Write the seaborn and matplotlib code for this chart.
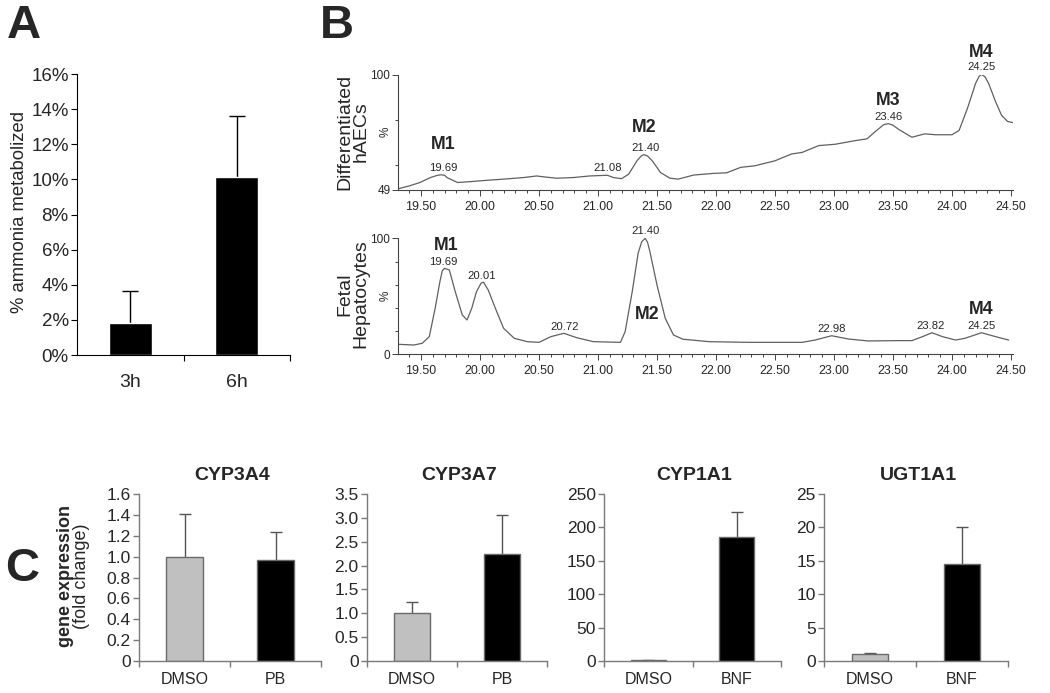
import numpy as np
import pandas as pd
import matplotlib
matplotlib.use("Agg")
import matplotlib.pyplot as plt
import seaborn as sns
from matplotlib import font_manager as fm
from matplotlib.ticker import FixedLocator

# ---------------- Panel A data ----------------
a_categories = ["3h", "6h"]
a_values = [1.85, 10.15]
a_errors = [1.80, 3.45]
a_yticks = [0, 2, 4, 6, 8, 10, 12, 14, 16]
a_ylabel = "% ammonia metabolized"

# ---------------- Panel B data (chromatograms) ----------------
b_top_time = [19.31, 19.40, 19.49, 19.58, 19.64, 19.67, 19.70, 19.72, 19.81, 19.92, 20.06, 20.20,
              20.37, 20.48, 20.54, 20.65, 20.79, 20.93, 21.08, 21.13, 21.20, 21.26,
              21.33, 21.37, 21.39, 21.42, 21.46, 21.53, 21.61, 21.68, 21.81, 21.97, 22.09, 22.21,
              22.33, 22.50, 22.64, 22.73, 22.87, 23.01, 23.18, 23.28, 23.35, 23.42, 23.46,
              23.50, 23.55, 23.66, 23.77, 23.86, 24.00, 24.06, 24.13, 24.20, 24.23, 24.25, 24.28,
              24.31, 24.37, 24.42, 24.47, 24.52]
b_top_signal = [49.6, 50.8, 52.3, 54.5, 55.5, 55.7, 55.5, 54.5, 52.3, 52.7, 53.3, 53.8,
                54.5, 55.2, 54.8, 54.2, 54.5, 55.2, 55.5, 54.5, 54.0, 56.0,
                61.9, 64.2, 64.6, 64.0, 61.9, 56.7, 54.2, 53.8, 55.6, 56.3, 56.6, 59.0,
                59.7, 61.9, 64.9, 65.6, 68.6, 69.2, 70.8, 71.6, 74.8, 77.8, 78.3,
                77.6, 75.7, 72.3, 73.8, 73.4, 73.4, 75.3, 84.9, 96.1, 99.2, 100.0, 99.0,
                96.1, 87.9, 82.0, 79.3, 78.7]
b_bot_time = [19.31, 19.44, 19.51, 19.57, 19.62, 19.66, 19.68, 19.70, 19.74, 19.79, 19.85,
              19.89, 19.93, 19.97, 20.01, 20.03, 20.07, 20.13, 20.20, 20.29, 20.40, 20.50,
              20.60, 20.71, 20.82, 20.96, 21.19, 21.23, 21.29, 21.34, 21.37, 21.40, 21.42, 21.44,
              21.50, 21.57, 21.64, 21.72, 21.94, 22.28, 22.56, 22.73, 22.84, 22.98,
              23.12, 23.29, 23.55, 23.66, 23.75, 23.83, 23.92, 24.03, 24.11, 24.25,
              24.37, 24.48]
b_bot_signal = [8.6, 8.0, 9.5, 15.2, 39.7, 62.6, 72.0, 74.1, 72.7, 54.0, 33.9,
                29.6, 39.7, 54.0, 61.5, 62.1, 55.4, 39.7, 22.4, 13.8, 10.9, 10.3,
                15.2, 18.1, 14.3, 10.9, 10.3, 19.5, 54.0, 87.1, 97.0, 100.0, 96.5, 88.4,
                59.7, 31.0, 16.6, 13.0, 10.9, 10.3, 10.3, 10.3, 12.3, 16.0,
                13.2, 11.5, 11.8, 11.8, 15.2, 18.6, 15.2, 12.3, 13.8, 18.6,
                15.2, 12.3]
b_top_peak_labels = ["19.69", "21.08", "21.40", "23.46", "24.25"]
b_bot_peak_labels = ["19.69", "20.01", "20.72", "21.40", "22.98", "23.82", "24.25"]
b_top_metabolites = [("M1", 19.69, 69.3), ("M2", 21.39, 76.7), ("M3", 23.46, 88.6), ("M4", 24.25, 109.5)]
b_bot_metabolites = [("M1", 19.71, 94.2), ("M2", 21.42, 33.9), ("M4", 24.25, 38.2)]
b_xticks = [19.5, 20.0, 20.5, 21.0, 21.5, 22.0, 22.5, 23.0, 23.5, 24.0, 24.5]
b_top_ylim = [49, 100]
b_bot_ylim = [0, 100]
b_top_name = "Differentiated\nhAECs"
b_bot_name = "Fetal\nHepatocytes"

# ---------------- Panel C data ----------------
c_genes = ["CYP3A4", "CYP3A7", "CYP1A1", "UGT1A1"]
c_treatments = [["DMSO", "PB"], ["DMSO", "PB"], ["DMSO", "BNF"], ["DMSO", "BNF"]]
c_values = [[1.00, 0.97], [1.00, 2.24], [1.0, 186.0], [1.00, 14.5]]
c_errors = [[0.41, 0.27], [0.23, 0.81], [0.6, 36.5], [0.20, 5.6]]
c_yticks = [[0, 0.2, 0.4, 0.6, 0.8, 1.0, 1.2, 1.4, 1.6],
            [0, 0.5, 1.0, 1.5, 2.0, 2.5, 3.0, 3.5],
            [0, 50, 100, 150, 200, 250],
            [0, 5, 10, 15, 20, 25]]
c_yticklabels = [["0", "0.2", "0.4", "0.6", "0.8", "1.0", "1.2", "1.4", "1.6"],
                 ["0", "0.5", "1.0", "1.5", "2.0", "2.5", "3.0", "3.5"],
                 ["0", "50", "100", "150", "200", "250"],
                 ["0", "5", "10", "15", "20", "25"]]

# ---------------- style ----------------
sns.set_style("white")
plt.rcParams["font.family"] = ["Liberation Sans", "DejaVu Sans"]
names = {f.name for f in fm.fontManager.ttflist}
NARROW = "Liberation Sans Narrow" if "Liberation Sans Narrow" in names else "Liberation Sans"
NSCALE = 1.0 if NARROW == "Liberation Sans Narrow" else 0.85

W, H = 1050, 693
fig = plt.figure(figsize=(W / 100, H / 100), dpi=100)


def px_axes(left, top, right, bottom):
    return fig.add_axes([left / W, 1 - bottom / H, (right - left) / W, (bottom - top) / H])


def fig_text(x, y, s, **kw):
    fig.text(x / W, 1 - y / H, s, **kw)


def up_errorbar(ax, xs, vals, errs, color, capsize, lw):
    eb = ax.errorbar(xs, vals, yerr=[[0] * len(errs), errs], fmt="none", ecolor=color,
                     elinewidth=lw, capsize=capsize, capthick=lw, zorder=1)
    caps = eb[1]
    if len(caps) > 0:
        caps[0].set_visible(False)


# ---------------- Panel A ----------------
axA = px_axes(77, 74, 290, 355)
dfA = pd.DataFrame({"cond": a_categories, "val": a_values})
up_errorbar(axA, [0, 1], a_values, a_errors, "black", 6, 1.0)
sns.barplot(data=dfA, x="cond", y="val", color="black", saturation=1, width=0.4,
            errorbar=None, ax=axA, zorder=2)
axA.set_xlim(-0.5, 1.5)
axA.set_ylim(0, 16)
axA.set_yticks(a_yticks)
axA.set_yticklabels([f"{v}%" for v in a_yticks])
axA.set_xlabel("")
axA.set_ylabel("")
for s in ["top", "right"]:
    axA.spines[s].set_visible(False)
for s in ["left", "bottom"]:
    axA.spines[s].set_color("black")
    axA.spines[s].set_linewidth(0.8)
axA.tick_params(axis="y", which="major", length=4, width=0.8, color="black", labelsize=13.5, pad=2, left=True)
axA.tick_params(axis="x", which="major", length=0, labelsize=14, pad=14)
axA.xaxis.set_minor_locator(FixedLocator([0.5, 1.5]))
axA.tick_params(axis="x", which="minor", length=4, width=0.8, color="black", bottom=True)
fig_text(20, 212, a_ylabel, rotation=90, ha="center", va="center", fontsize=13.3)
fig_text(7, 4, "A", ha="left", va="top", fontsize=34, fontweight="bold")

# ---------------- Panel B ----------------
B_LEFT, B_RIGHT = 398, 1013


def chrom_axes(top, bottom, time, signal, ylim, minor_y, name, center_y, peak_labels, mets):
    ax = px_axes(B_LEFT, top, B_RIGHT, bottom)
    sns.lineplot(x=time, y=signal, ax=ax, color="#606060", lw=0.9, estimator=None, sort=False)
    ax.set_xlim(19.305, 24.517)
    ax.set_ylim(*ylim)
    ax.set_xticks(b_xticks)
    ax.set_xticklabels([f"{v:.2f}" for v in b_xticks], fontfamily=NARROW, fontsize=10.5 * NSCALE)
    ax.xaxis.set_minor_locator(FixedLocator(np.round(np.arange(19.4, 24.51, 0.1), 2)))
    ax.set_yticks(ylim)
    ax.set_yticklabels([str(v) for v in ylim], fontfamily=NARROW, fontsize=10 * NSCALE)
    ax.yaxis.set_minor_locator(FixedLocator(minor_y))
    ax.tick_params(axis="both", which="major", length=4, width=0.7, color="#444444", pad=1.5,
                   bottom=True, left=True)
    ax.tick_params(axis="both", which="minor", length=2.5, width=0.7, color="#444444",
                   bottom=True, left=True)
    ax.tick_params(axis="x", which="major", pad=4)
    for s in ["top", "right"]:
        ax.spines[s].set_visible(False)
    for s in ["left", "bottom"]:
        ax.spines[s].set_color("#444444")
        ax.spines[s].set_linewidth(0.8)
    ax.set_xlabel("")
    ax.set_ylabel("")
    ax.text(-0.02, 0.5, "%", transform=ax.transAxes, rotation=90, ha="center", va="center",
            fontfamily=NARROW, fontsize=10 * NSCALE)
    fig_text(B_LEFT - 45, center_y, name, rotation=90, ha="center", va="center", fontsize=14,
             linespacing=0.95, multialignment="center")
    t = np.array(time)
    sgl = np.array(signal)
    for lab in peak_labels:
        tv = float(lab)
        yv = np.interp(tv, t, sgl)
        ax.annotate(lab, xy=(tv, yv), xytext=(0, 1.5), textcoords="offset points",
                    ha="center", va="bottom", fontfamily=NARROW, fontsize=9.5 * NSCALE,
                    annotation_clip=False)
    for lab, tv, yv in mets:
        ax.text(tv, yv, lab, ha="center", va="center", fontfamily=NARROW, fontweight="bold",
                fontsize=15 * NSCALE, clip_on=False)
    return ax


chrom_axes(74.5, 190, b_top_time, b_top_signal, b_top_ylim, [60, 80], b_top_name, 132,
           b_top_peak_labels, b_top_metabolites)
chrom_axes(238.3, 354.3, b_bot_time, b_bot_signal, b_bot_ylim, [20, 40, 60, 80], b_bot_name, 294,
           b_bot_peak_labels, b_bot_metabolites)
fig_text(320, 4, "B", ha="left", va="top", fontsize=34, fontweight="bold")

# ---------------- Panel C ----------------
c_boxes = [(139, 321), (367, 547), (604, 781), (824, 1008)]
for i, gene in enumerate(c_genes):
    l, r = c_boxes[i]
    ax = px_axes(l, 494, r, 661)
    df = pd.DataFrame({"treat": c_treatments[i], "val": c_values[i]})
    up_errorbar(ax, [0, 1], c_values[i], c_errors[i], "#555555", 4, 1.0)
    sns.barplot(data=df, x="treat", y="val", hue="treat",
                palette=["#c0c0c0", "#000000"], saturation=1, width=0.4, errorbar=None,
                legend=False, ax=ax, zorder=2, edgecolor="#6a6a6a", linewidth=1.0)
    ax.set_xlim(-0.5, 1.5)
    ax.set_ylim(0, c_yticks[i][-1])
    ax.set_yticks(c_yticks[i])
    ax.set_yticklabels(c_yticklabels[i])
    ax.set_xlabel("")
    ax.set_ylabel("")
    for s in ["top", "right"]:
        ax.spines[s].set_visible(False)
    for s in ["left", "bottom"]:
        ax.spines[s].set_color("#7a7a7a")
        ax.spines[s].set_linewidth(1.0)
    ax.tick_params(axis="y", which="major", length=4, width=1.0, color="#7a7a7a", labelsize=12.5,
                   pad=2, left=True)
    ax.tick_params(axis="x", which="major", length=0, labelsize=11.5, pad=8)
    ax.xaxis.set_minor_locator(FixedLocator([-0.5, 0.5, 1.5]))
    ax.tick_params(axis="x", which="minor", length=4, width=1.0, color="#7a7a7a", bottom=True)
    fig_text((l + r) / 2 + 2, 475, gene, ha="center", va="center", fontsize=14, fontweight="bold")

fig_text(65, 576, "gene expression", rotation=90, ha="center", va="center", fontsize=13,
         fontweight="bold")
fig_text(82, 576, "(fold change)", rotation=90, ha="center", va="center", fontsize=13)
fig_text(22, 569, "C", ha="center", va="center", fontsize=34, fontweight="bold")

fig.savefig("out.png", dpi=100)
